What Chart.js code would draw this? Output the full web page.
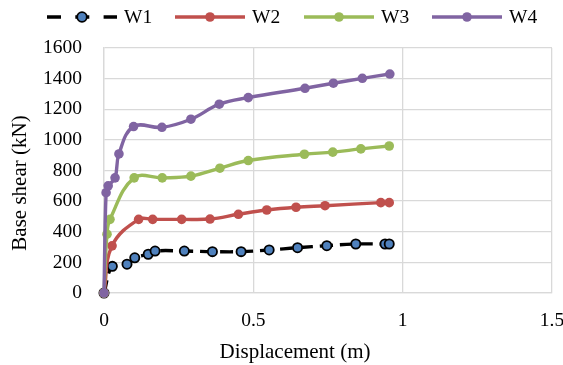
<!DOCTYPE html>
<html>
<head>
<meta charset="utf-8">
<script src="https://cdn.jsdelivr.net/npm/chart.js@4"></script>
<style>
  html, body { margin: 0; padding: 0; background: #fff; }
</style>
</head>
<body>
<canvas id="chart" width="563" height="365"></canvas>
<script>
const seriesNames = ['W1', 'W2', 'W3', 'W4'];

const w1X = [0, 0.028, 0.077, 0.103, 0.148, 0.171, 0.269, 0.363, 0.459, 0.553, 0.648, 0.746, 0.843, 0.941, 0.955];
const w1Y = [0, 174, 188, 230, 253, 274, 274, 270, 270, 281, 296, 309, 320, 320, 320];

const w2X = [0, 0.027, 0.116, 0.163, 0.26, 0.355, 0.45, 0.545, 0.643, 0.74, 0.927, 0.955];
const w2Y = [0, 308, 481, 481, 481, 483, 514, 542, 560, 570, 590, 590];

const w3X = [0, 0.01, 0.02, 0.101, 0.195, 0.291, 0.388, 0.483, 0.671, 0.766, 0.86, 0.955];
const w3Y = [0, 384, 481, 752, 752, 763, 815, 865, 906, 920, 941, 960];

const w4X = [0, 0.007, 0.014, 0.037, 0.05, 0.099, 0.194, 0.291, 0.386, 0.483, 0.673, 0.768, 0.865, 0.957];
const w4Y = [0, 655, 700, 752, 908, 1087, 1082, 1135, 1233, 1276, 1337, 1370, 1402, 1430];

const xTicks = [0, 0.5, 1, 1.5];
const yTicks = [0, 200, 400, 600, 800, 1000, 1200, 1400, 1600];

const xTitle = 'Displacement (m)';
const yTitle = 'Base shear (kN)';

const FONT = '"Liberation Serif", "Times New Roman", serif';
const GRID = '#d9d9d9';
const colors = ['#000000', '#c0504d', '#9bbb59', '#8064a2'];

const toPoints = (xs, ys) => xs.map((x, i) => ({ x: x, y: ys[i] }));

const datasets = [
    {
        label: seriesNames[0],
        data: toPoints(w1X, w1Y),
        borderColor: colors[0],
        borderDash: [13, 7],
        pointBackgroundColor: '#4f81bd',
        pointBorderColor: '#000000',
        pointBorderWidth: 1.8,
        pointRadius: 4.6,
        order: 3
    },
    {
        label: seriesNames[1],
        data: toPoints(w2X, w2Y),
        borderColor: colors[1],
        pointBackgroundColor: colors[1],
        pointBorderColor: colors[1],
        order: 2
    },
    {
        label: seriesNames[2],
        data: toPoints(w3X, w3Y),
        borderColor: colors[2],
        pointBackgroundColor: colors[2],
        pointBorderColor: colors[2],
        order: 1
    },
    {
        label: seriesNames[3],
        data: toPoints(w4X, w4Y),
        borderColor: colors[3],
        pointBackgroundColor: colors[3],
        pointBorderColor: colors[3],
        order: 0
    }
];

// legend in Excel style (line with marker in the middle) plus axis titles
const decorations = {
    id: 'decorations',
    afterDraw(chart) {
        const ctx = chart.ctx;
        const starts = [47, 175, 304, 432];
        const y = 17;
        ctx.save();
        ctx.font = '19.5px ' + FONT;
        ctx.textBaseline = 'middle';
        ctx.fillStyle = '#000';
        datasets.forEach((ds, i) => {
            const x0 = starts[i];
            ctx.beginPath();
            ctx.lineWidth = 3.4;
            ctx.strokeStyle = ds.borderColor;
            ctx.setLineDash(i === 0 ? [14, 14.3] : []);
            ctx.moveTo(x0, y);
            ctx.lineTo(x0 + 70, y);
            ctx.stroke();
            ctx.setLineDash([]);
            ctx.beginPath();
            ctx.arc(x0 + 35, y, 4.8, 0, Math.PI * 2);
            ctx.fillStyle = ds.pointBackgroundColor;
            ctx.fill();
            if (i === 0) {
                ctx.lineWidth = 1.8;
                ctx.strokeStyle = '#000';
                ctx.stroke();
            }
            ctx.fillStyle = '#000';
            ctx.textAlign = 'left';
            ctx.fillText(ds.label, x0 + 77, y + 1);
        });

        ctx.font = '21px ' + FONT;
        ctx.textAlign = 'center';
        ctx.fillText(xTitle, 295, 352);
        ctx.translate(20, 183);
        ctx.rotate(-Math.PI / 2);
        ctx.fillText(yTitle, 0, 0);
        ctx.restore();
    }
};

new Chart(document.getElementById('chart'), {
    type: 'line',
    data: { datasets: datasets },
    plugins: [decorations],
    options: {
        responsive: false,
        animation: false,
        devicePixelRatio: 1,
        layout: { padding: { top: 48, right: 11, bottom: 0, left: 0 } },
        elements: {
            line: { borderWidth: 3.4, tension: 0.4, fill: false },
            point: { radius: 4.8, borderWidth: 0, hoverRadius: 4.8 }
        },
        datasets: { line: { clip: false } },
        plugins: {
            legend: { display: false },
            tooltip: { enabled: false }
        },
        scales: {
            x: {
                type: 'linear',
                min: 0,
                max: 1.5,
                afterBuildTicks: scale => { scale.ticks = xTicks.map(v => ({ value: v })); },
                afterFit: scale => { scale.height = 72; scale.paddingLeft = 0; scale.paddingRight = 0; },
                ticks: {
                    padding: 16,
                    color: '#000',
                    font: { family: FONT, size: 19.5 },
                    callback: v => String(v)
                },
                grid: { color: GRID, lineWidth: 1.3, drawTicks: false },
                border: { color: GRID, width: 1.3 }
            },
            y: {
                min: 0,
                max: 1600,
                afterBuildTicks: scale => { scale.ticks = yTicks.map(v => ({ value: v })); },
                afterFit: scale => { scale.width = 104; scale.paddingTop = 0; scale.paddingBottom = 0; },
                ticks: {
                    padding: 22,
                    color: '#000',
                    font: { family: FONT, size: 19.5 },
                    callback: v => String(v)
                },
                grid: { color: GRID, lineWidth: 1.3, drawTicks: false },
                border: { color: GRID, width: 1.3 }
            }
        }
    }
});
</script>
</body>
</html>
